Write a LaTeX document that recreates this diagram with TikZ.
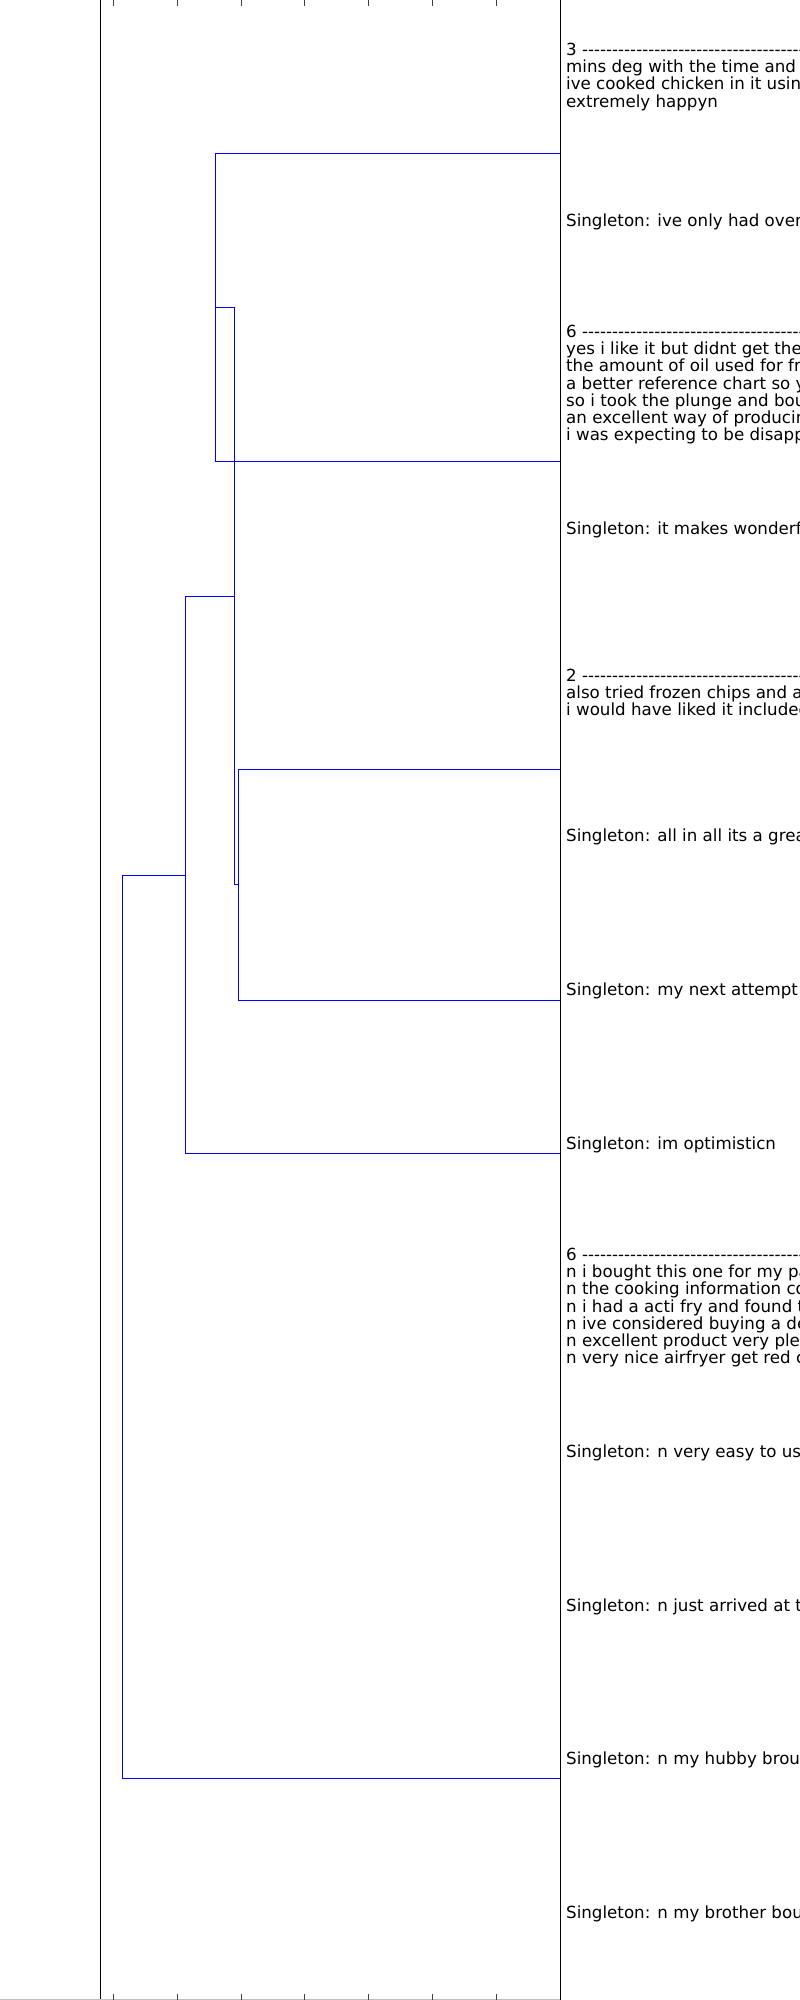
\documentclass[tikz,border=0pt]{standalone}
\usepackage{fontspec}
\setmainfont{DejaVu Sans}[Ligatures=TeXOff]
\begin{document}
\begin{tikzpicture}[x=1pt,y=-1pt,
  link/.style={draw=blue, line width=1pt},
  zlink/.style={line width=1.25pt},
  spine/.style={draw=black, line width=1pt},
  tickmark/.style={draw=black!75, line width=0.8pt},
  lbl/.style={anchor=west, inner sep=0pt, align=left, font=\fontsize{16.67}{17.2}\selectfont}]
\useasboundingbox (0,0) rectangle (800,2000);
\clip (0,0) rectangle (800,2000);
\fill[white] (0,0) rectangle (800,2000);
% zero-height coloured links along the right axis
\coordinate (m0) at (560.5,76.92);   \coordinate (m1) at (560.5,230.77);
\coordinate (c0) at (560.5,384.62);  \coordinate (c1) at (560.5,538.46);
\coordinate (r0) at (560.5,692.31);  \coordinate (r1) at (560.5,846.15);
\coordinate (g0) at (560.5,1307.69); \coordinate (g1) at (560.5,1923.08);
\draw[zlink, magenta] (m0) -- (m1);
\draw[zlink, cyan] (c0) -- (c1);
\draw[zlink, red] (r0) -- (r1);
\draw[zlink, green!50!black] (g0) -- (g1);
% dendrogram links
\coordinate (A) at (560,153.5);  \coordinate (B) at (560,461.5);
\coordinate (Cx) at (215.5,307.5);
\coordinate (D) at (560,769.5);  \coordinate (L6) at (560,1000.5);
\coordinate (Ex) at (238.5,884.5);
\coordinate (Fx) at (234.5,596.5);
\coordinate (L7) at (560,1153.5);
\coordinate (Gx) at (185.5,875.5);
\coordinate (H) at (560,1778.5);
\draw[link] (A) -- (215.5,153.5) -- (215.5,461.5) -- (B);
\draw[link] (Cx) -- (234.5,307.5) -- (234.5,884.5) -- (Ex);
\draw[link] (D) -- (238.5,769.5) -- (238.5,1000.5) -- (L6);
\draw[link] (Fx) -- (185.5,596.5) -- (185.5,1153.5) -- (L7);
\draw[link] (Gx) -- (122.5,875.5) -- (122.5,1778.5) -- (H);
% axes
\coordinate (lt) at (100.5,0); \coordinate (lb) at (100.5,2000);
\coordinate (rt) at (560.5,0); \coordinate (rb) at (560.5,2000);
\draw[spine] (lt) -- (lb);
\draw[spine] (rt) -- (rb);
\draw[draw=black!25, line width=1pt] (0,1999.5) -- (560,1999.5);
\foreach \x in {113,177,241,304.5,368.5,432.5,496.5}{
  \draw[tickmark] (\x,0) -- (\x,6);
  \draw[tickmark] (\x,1994) -- (\x,2000);
}
% leaf labels
\node[lbl] (t0) at (566,76.92) {3 ------------------------------------------------------------\\mins deg with the time and\\ive cooked chicken in it using\\extremely happyn};
\node[lbl] (t1) at (566,221.8) {Singleton: ive only had over};
\node[lbl] (t2) at (566,384.62) {6 ------------------------------------------------------------\\yes i like it but didnt get the\\the amount of oil used for fried\\a better reference chart so you\\so i took the plunge and bought\\an excellent way of producing\\i was expecting to be disappointed};
\node[lbl] (t3) at (566,529.5) {Singleton: it makes wonderful};
\node[lbl] (t4) at (566,692.31) {2 ------------------------------------------------------------\\also tried frozen chips and a\\i would have liked it included};
\node[lbl] (t5) at (566,837.2) {Singleton: all in all its a great};
\node[lbl] (t6) at (566,991) {Singleton: my next attempt};
\node[lbl] (t7) at (566,1144.9) {Singleton: im optimisticn};
\node[lbl] (t8) at (566,1307.69) {6 ------------------------------------------------------------\\n i bought this one for my pa\\n the cooking information co\\n i had a acti fry and found t\\n ive considered buying a de\\n excellent product very ple\\n very nice airfryer get red c};
\node[lbl] (t9) at (566,1452.5) {Singleton: n very easy to us};
\node[lbl] (t10) at (566,1606.4) {Singleton: n just arrived at t};
\node[lbl] (t11) at (566,1760.2) {Singleton: n my hubby brought};
\node[lbl] (t12) at (566,1914.1) {Singleton: n my brother bou};
\end{tikzpicture}
\end{document}
